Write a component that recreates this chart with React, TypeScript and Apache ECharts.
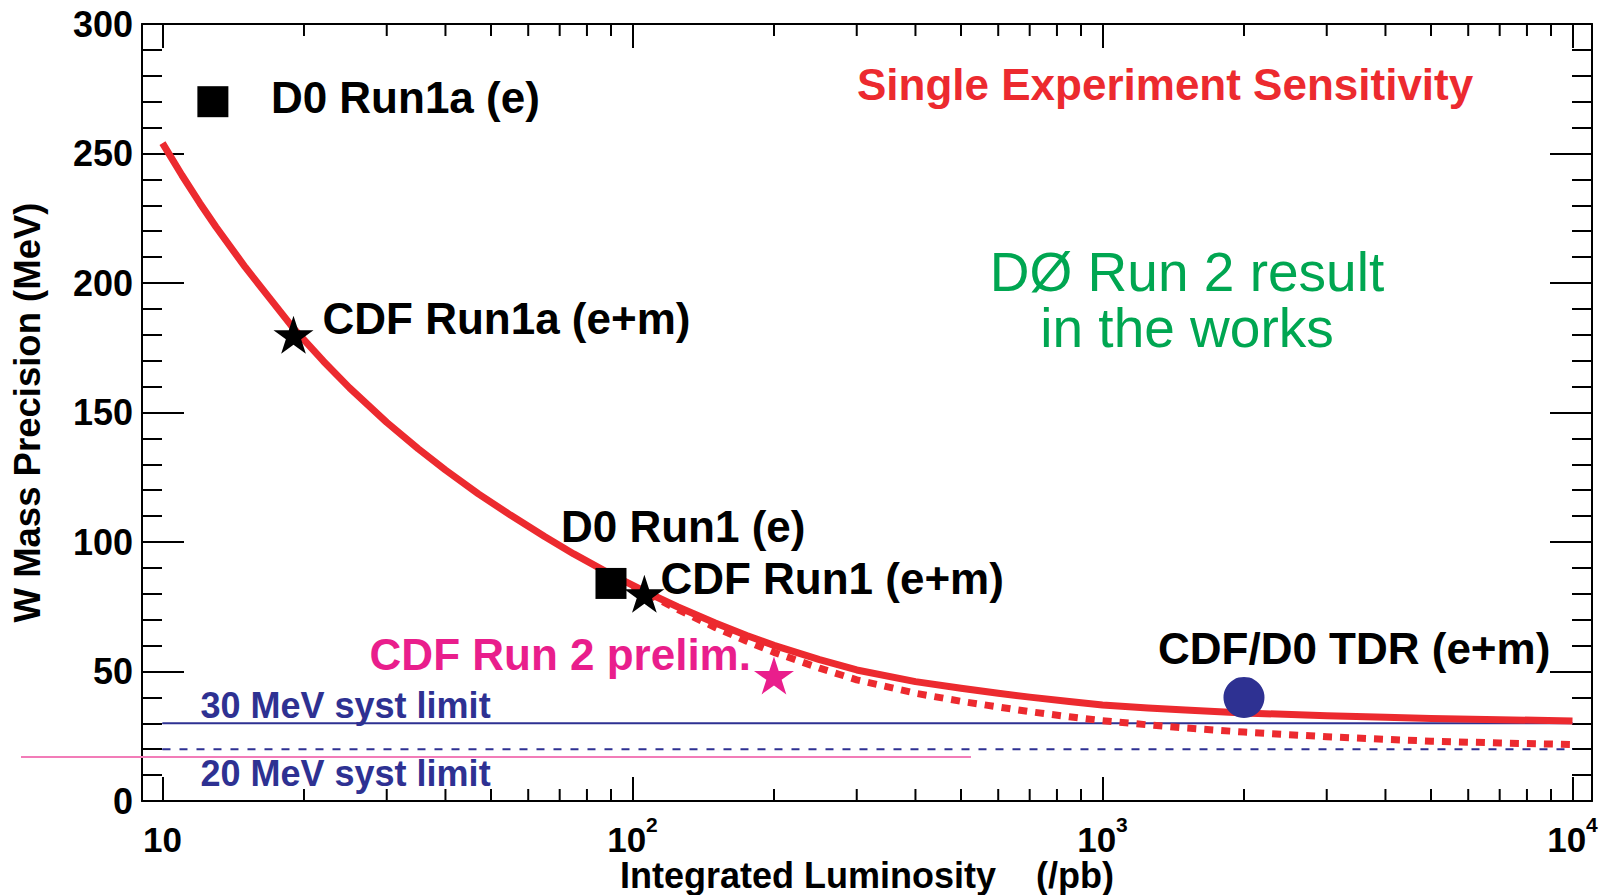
import React, { useEffect, useRef } from 'react';
import * as echarts from 'echarts';

// ---------- data ----------
const xMin = 9.045;
const xMax = 11003;
const yMin = 0;
const yMax = 300;
const yStep = 50;

// Single experiment sensitivity curve (solid)
const lumiCurve = [10, 11, 12, 13, 15, 17, 19, 22, 25, 30, 35, 40, 47, 55, 65, 75, 90, 106, 125, 150, 175, 200, 250, 300, 400, 500, 600, 700, 850, 1000, 1250, 1500, 2000, 3000, 4000, 5000, 7000, 10000];
const precisionCurve = [254, 241.6, 230.9, 221.6, 206.1, 193.6, 182.5, 169.8, 159.5, 146.2, 136, 127.8, 118.6, 110.4, 102.1, 95.4, 87.5, 81, 74.9, 68.7, 63.9, 60.1, 54.6, 50.6, 46.1, 43.5, 41.6, 40.1, 38.4, 37.1, 35.9, 35.1, 34, 32.9, 32.3, 31.9, 31.4, 30.9];

// Lower (dotted) curve
const lumiDotted = [100, 125, 150, 175, 200, 250, 300, 400, 500, 600, 700, 850, 1000, 1250, 1500, 2000, 3000, 4000, 5000, 7000, 10000];
const precisionDotted = [83, 73.9, 67, 61.7, 57.4, 51.3, 46.8, 41.6, 38.5, 36.3, 34.5, 32.5, 31, 29.4, 28.2, 26.6, 24.8, 23.8, 23.1, 22.4, 21.8];

// Measurements
const pointNames = ['D0 Run1a (e)', 'CDF Run1a (e+m)', 'D0 Run1 (e)', 'CDF Run1 (e+m)', 'CDF Run 2 prelim.', 'CDF/D0 TDR (e+m)'];
const pointLumi = [12.8, 19, 90, 106, 200, 2000];
const pointPrecision = [270, 180, 84, 80, 48.5, 40];

// Systematic limits
const systValues = [30, 20];
const systLabels = ['30 MeV syst limit', '20 MeV syst limit'];
const systLumi = [10, 10000];

// Pink reference line
const pinkLumi = [5, 525];
const pinkPrecision = [17, 17];

// Minor ticks of the log axis
const minorTickLumi = [20, 30, 40, 50, 60, 70, 80, 90, 200, 300, 400, 500, 600, 700, 800, 900, 2000, 3000, 4000, 5000, 6000, 7000, 8000, 9000];

// ---------- styles ----------
const FONT = '"Liberation Sans", Arial, Helvetica, sans-serif';
const RED = '#ec2a2f';
const NAVY = '#2e3192';
const MAGENTA = '#e91e8c';
const PINK = '#f27cb8';
const GREEN = '#00a651';
const STAR = 'path://M0,-100L22.45,-30.9L95.1,-30.9L36.33,11.8L58.8,80.9L0,38.2L-58.8,80.9L-36.33,11.8L-95.1,-30.9L-22.45,-30.9Z';

const pointSymbols = ['rect', STAR, 'rect', STAR, STAR, 'circle'];
const pointSizes: any[] = [31, [40, 38], 31, [40, 38], [40, 38], 41];
const pointColors = ['#000', '#000', '#000', '#000', MAGENTA, NAVY];
const pointLabelColors = ['#000', '#000', '#000', '#000', MAGENTA, '#000'];
const pointLabelAlign = ['left', 'left', 'left', 'left', 'right', 'left'];
const pointLabelOffset = [[58, -4], [29, -16], [-50, -57], [16, -15], [-23, -21], [-86, -49]];
const systLabelOffset = [[38, -18], [38, 24]];

export default function App() {
  const ref = useRef<HTMLDivElement>(null);

  useEffect(() => {
    if (!ref.current) return;
    const chart = echarts.init(ref.current, null, { renderer: 'svg' });

    const xAxisBase = {
      type: 'log',
      logBase: 10,
      min: xMin,
      max: xMax,
      axisLine: { show: true, onZero: false, lineStyle: { color: '#000', width: 2 } },
      axisTick: { show: true, inside: true, length: 24, lineStyle: { color: '#000', width: 2 } },
      splitLine: { show: false },
      minorTick: { show: false },
    };
    const yAxisBase = {
      type: 'value',
      min: yMin,
      max: yMax,
      interval: yStep,
      axisLine: { show: true, onZero: false, lineStyle: { color: '#000', width: 2 } },
      axisTick: { show: true, inside: true, length: 42, lineStyle: { color: '#000', width: 2 } },
      minorTick: { show: true, splitNumber: 5, length: 20, lineStyle: { color: '#000', width: 2 } },
      splitLine: { show: false },
      minorSplitLine: { show: false },
    };

    const pointData = pointNames.map((name, i) => ({
      name,
      value: [pointLumi[i], pointPrecision[i]],
      symbol: pointSymbols[i],
      symbolSize: pointSizes[i],
      itemStyle: { color: pointColors[i], opacity: 1 },
      label: {
        show: true,
        formatter: name,
        position: 'inside',
        align: pointLabelAlign[i],
        verticalAlign: 'middle',
        offset: pointLabelOffset[i],
        color: pointLabelColors[i],
        opacity: 1,
        fontFamily: FONT,
        fontWeight: 'bold',
        fontSize: 44,
      },
    }));

    const systSeries = systValues.map((v, i) => ({
      type: 'line',
      name: systLabels[i],
      data: [
        {
          value: [systLumi[0], v],
          label: {
            show: true,
            formatter: systLabels[i],
            position: 'inside',
            align: 'left',
            verticalAlign: 'middle',
            offset: systLabelOffset[i],
            color: NAVY,
            fontFamily: FONT,
            fontWeight: 'bold',
            fontSize: 36,
          },
        },
        { value: [systLumi[1], v], label: { show: false } },
      ],
      showSymbol: true,
      symbol: 'circle',
      symbolSize: 1,
      itemStyle: { color: NAVY },
      lineStyle: { color: NAVY, width: 2, type: i === 0 ? 'solid' : [8, 9] },
      z: 2,
    }));

    const option: any = {
      animation: false,
      backgroundColor: '#fff',
      grid: { left: 142, right: 16, top: 24, bottom: 94, containLabel: false, outerBoundsMode: 'none' },
      xAxis: [
        {
          ...xAxisBase,
          position: 'bottom',
          name: 'Integrated Luminosity    (/pb)',
          nameLocation: 'middle',
          nameGap: 63,
          nameMoveOverlap: false,
          nameTextStyle: { fontFamily: FONT, fontWeight: 'bold', fontSize: 36, lineHeight: 22, color: '#000' },
          axisLabel: {
            show: true,
            margin: 13,
            showMinLabel: false,
            showMaxLabel: false,
            formatter: (val: number) => {
              const e = Math.round(Math.log10(val));
              return e === 1 ? '{a|10}' : '{a|10}{s|' + e + '}';
            },
            rich: {
              a: { fontFamily: FONT, fontWeight: 'bold', fontSize: 35, lineHeight: 50, color: '#000' },
              s: { fontFamily: FONT, fontWeight: 'bold', fontSize: 21, lineHeight: 1, verticalAlign: 'top', color: '#000' },
            },
          },
        },
        {
          ...xAxisBase,
          position: 'top',
          axisLabel: { show: false },
        },
      ],
      yAxis: [
        {
          ...yAxisBase,
          position: 'left',
          name: 'W Mass Precision (MeV)',
          nameLocation: 'middle',
          nameGap: 96,
          nameMoveOverlap: false,
          nameTextStyle: { fontFamily: FONT, fontWeight: 'bold', fontSize: 36.5, color: '#000' },
          axisLabel: { show: true, margin: 9, fontFamily: FONT, fontWeight: 'bold', fontSize: 36, color: '#000' },
        },
        {
          ...yAxisBase,
          position: 'right',
          axisLabel: { show: false },
        },
      ],
      graphic: [
        {
          type: 'text',
          x: 857,
          y: 84,
          style: {
            text: 'Single Experiment Sensitivity',
            fill: RED,
            font: 'bold 44px ' + FONT,
            textAlign: 'left',
            textVerticalAlign: 'middle',
          },
          z: 10,
        },
        {
          type: 'text',
          x: 1187,
          y: 300,
          style: {
            text: 'DØ Run 2 result\nin the works',
            fill: GREEN,
            font: '55px ' + FONT,
            lineHeight: 56,
            textAlign: 'center',
            textVerticalAlign: 'middle',
          },
          z: 10,
        },
      ],
      series: [
        {
          type: 'custom',
          name: 'minor ticks',
          data: minorTickLumi.map((v) => [v, yMin]),
          renderItem: (params: any, api: any) => {
            const v = api.value(0);
            const b = api.coord([v, yMin]);
            const t = api.coord([v, yMax]);
            const st = { stroke: '#000', lineWidth: 2 };
            return {
              type: 'group',
              children: [
                { type: 'line', shape: { x1: b[0], y1: b[1], x2: b[0], y2: b[1] - 12 }, style: st },
                { type: 'line', shape: { x1: t[0], y1: t[1], x2: t[0], y2: t[1] + 12 }, style: st },
              ],
            };
          },
          silent: true,
          z: 1,
        },
        {
          type: 'custom',
          name: 'pink',
          data: [[pinkLumi[0], pinkPrecision[0], pinkLumi[1], pinkPrecision[1]]],
          renderItem: (params: any, api: any) => {
            const y0 = api.value(1);
            const y1 = api.value(3);
            // log-axis mapping taken from the axis itself (one decade), extended beyond its range
            const a = api.coord([10, y0]);
            const b = api.coord([100, y0]);
            const dec = b[0] - a[0];
            const xOf = (v: number) => a[0] + (Math.log10(v) - 1) * dec;
            const yB = api.coord([100, y1]);
            return {
              type: 'line',
              shape: { x1: xOf(api.value(0)), y1: a[1], x2: xOf(api.value(2)), y2: yB[1] },
              style: { stroke: PINK, lineWidth: 2 },
            };
          },
          clip: false,
          silent: true,
          z: 2,
        },
        ...systSeries,
        {
          type: 'line',
          name: 'dotted sensitivity',
          data: lumiDotted.map((l, i) => [l, precisionDotted[i]]),
          showSymbol: false,
          smooth: false,
          lineStyle: { color: RED, width: 7, type: [9, 8], cap: 'butt', join: 'round' },
          z: 3,
        },
        {
          type: 'line',
          name: 'sensitivity',
          data: lumiCurve.map((l, i) => [l, precisionCurve[i]]),
          showSymbol: false,
          smooth: false,
          lineStyle: { color: RED, width: 7, join: 'round' },
          z: 4,
        },
        {
          type: 'scatter',
          name: 'measurements',
          data: pointData,
          itemStyle: { opacity: 1 },
          z: 5,
        },
      ],
    };

    chart.setOption(option);
    return () => chart.dispose();
  }, []);

  return (
    <div
      ref={ref}
      style={{ position: 'fixed', left: 0, top: 0, width: 1608, height: 895, background: '#fff' }}
    />
  );
}
